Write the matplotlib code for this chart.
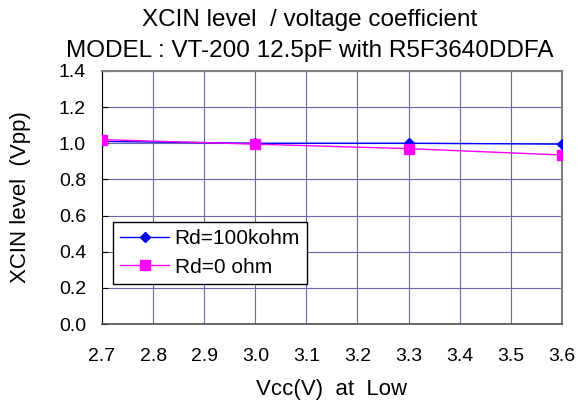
import matplotlib
matplotlib.use("Agg")
import matplotlib.pyplot as plt
import numpy as np

plt.rcParams['font.family'] = ['Liberation Sans', 'DejaVu Sans']

vcc = [2.7, 3.0, 3.3, 3.6]
rd100k = [1.01, 1.00, 1.00, 0.995]
rd0 = [1.02, 0.995, 0.97, 0.935]
xticks = [2.7, 2.8, 2.9, 3.0, 3.1, 3.2, 3.3, 3.4, 3.5, 3.6]
yticks = [0.0, 0.2, 0.4, 0.6, 0.8, 1.0, 1.2, 1.4]

fig = plt.figure(figsize=(5.78, 4.03), dpi=100)
ax = fig.add_axes([0.1765, 0.196, 0.7955, 0.628])

ax.plot(vcc, rd100k, color='#0000ff', marker='D', markersize=5.5, lw=1, label='Rd=100kohm', zorder=3)
ax.plot(vcc, rd0, color='#ff00ff', marker='s', markersize=6.5, lw=1, label='Rd=0 ohm', zorder=3)

ax.set_xlim(2.7, 3.6)
ax.set_ylim(0, 1.4)
ax.set_xticks(xticks)
ax.set_yticks(yticks)
ax.set_xticklabels([f"{v:.1f}" for v in xticks])
ax.set_yticklabels([f"{v:.1f}" for v in yticks])
ax.grid(True, color='#6868b0', lw=0.8)
ax.tick_params(axis='x', length=0, labelsize=14, pad=17)
ax.tick_params(axis='y', length=4, direction='in', labelsize=14, pad=11.5)
for s in ['top', 'right']:
    ax.spines[s].set_color('#808080')
    ax.spines[s].set_linewidth(1.5)
ax.spines['left'].set_color('black')
ax.spines['bottom'].set_color('#505050')
ax.spines['bottom'].set_linewidth(1.2)

ax.set_xlabel('Vcc(V)  at  Low', fontsize=16)
ax.xaxis.set_label_coords(0.5, -0.281)
ax.xaxis.label.set_va('baseline')
ax.set_ylabel('XCIN level  (Vpp)', fontsize=16)
ax.yaxis.set_label_coords(-0.178, 0.5)
ax.yaxis.label.set_va('center')

fig.text(0.536, 1 - 26 / 403, 'XCIN level  / voltage coefficient', ha='center', va='baseline', fontsize=17.5)
fig.text(0.536, 1 - 57 / 403, 'MODEL : VT-200 12.5pF with R5F3640DDFA', ha='center', va='baseline', fontsize=17.5)

leg = ax.legend(loc='lower left', bbox_to_anchor=(0.024, 0.158), fontsize=15, frameon=True,
                fancybox=False, edgecolor='black', framealpha=1, borderpad=0.35,
                handlelength=2.35, labelspacing=0.45, borderaxespad=0, handletextpad=0.25)
leg.get_frame().set_linewidth(1)

fig.savefig('out.png', dpi=100)
